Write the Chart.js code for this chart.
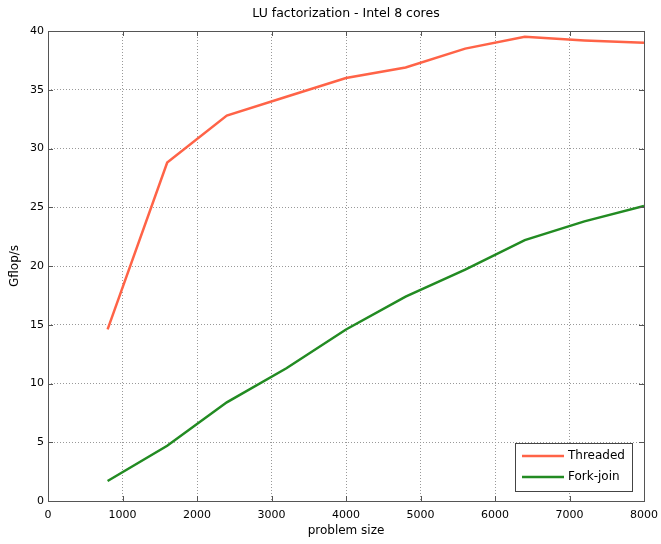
<!DOCTYPE html>
<html>
<head>
<meta charset="utf-8">
<script src="https://cdn.jsdelivr.net/npm/chart.js@4/dist/chart.umd.min.js"></script>
<style>
  html, body { margin: 0; padding: 0; background: #fff; }
  #wrap { width: 661px; height: 544px; }
</style>
</head>
<body>
<div id="wrap"><canvas id="chart"></canvas></div>
<script>
// Data
const problemSizes = [800, 1600, 2400, 3200, 4000, 4800, 5600, 6400, 7200, 8000];
const threaded = [14.6, 28.8, 32.8, 34.4, 36.0, 36.9, 38.5, 39.5, 39.2, 39.0];
const forkJoin = [1.7, 4.7, 8.4, 11.3, 14.6, 17.4, 19.7, 22.2, 23.8, 25.1];
const xTicks = [0, 1000, 2000, 3000, 4000, 5000, 6000, 7000, 8000];
const yTicks = [0, 5, 10, 15, 20, 25, 30, 35, 40];
const seriesNames = ['Threaded', 'Fork-join'];
const seriesColors = ['#ff6347', '#228b22'];

const FONT = '"DejaVu Sans", Arial, sans-serif';
Chart.defaults.font.family = FONT;
Chart.defaults.font.size = 11;
Chart.defaults.color = '#000';

// Matlab-like frame: box, inner ticks, title and legend
const framePlugin = {
  id: 'frame',
  afterDraw(chart) {
    const { ctx, chartArea: a, scales } = chart;
    ctx.save();
    ctx.strokeStyle = '#555';
    ctx.lineWidth = 1;
    ctx.strokeRect(a.left + 0.5, a.top + 0.5, a.right - a.left, a.bottom - a.top);
    ctx.beginPath();
    xTicks.forEach(v => {
      const x = Math.round(scales.x.getPixelForValue(v)) + 0.5;
      ctx.moveTo(x, a.bottom); ctx.lineTo(x, a.bottom - 5);
      ctx.moveTo(x, a.top); ctx.lineTo(x, a.top + 5);
    });
    yTicks.forEach(v => {
      const y = Math.round(scales.y.getPixelForValue(v)) + 0.5;
      ctx.moveTo(a.left, y); ctx.lineTo(a.left + 5, y);
      ctx.moveTo(a.right, y); ctx.lineTo(a.right - 5, y);
    });
    ctx.stroke();

    // title
    ctx.fillStyle = '#000';
    ctx.font = '12.5px ' + FONT;
    ctx.textAlign = 'center';
    ctx.textBaseline = 'middle';
    ctx.fillText('LU factorization - Intel 8 cores', (a.left + a.right) / 2, 14);

    // legend
    const lx = 515, ly = 443, lw = 117, lh = 48;
    ctx.fillStyle = '#fff';
    ctx.fillRect(lx, ly, lw, lh);
    ctx.strokeStyle = '#444';
    ctx.strokeRect(lx + 0.5, ly + 0.5, lw, lh);
    ctx.textAlign = 'left';
    ctx.font = '12px ' + FONT;
    seriesNames.forEach((name, i) => {
      const y = ly + 13 + i * 21;
      ctx.strokeStyle = seriesColors[i];
      ctx.lineWidth = 2.5;
      ctx.beginPath();
      ctx.moveTo(lx + 7, y); ctx.lineTo(lx + 49, y);
      ctx.stroke();
      ctx.fillStyle = '#000';
      ctx.fillText(name, lx + 53, y);
    });
    ctx.restore();
  }
};

new Chart(document.getElementById('chart'), {
  type: 'line',
  data: {
    datasets: seriesNames.map((name, i) => ({
      label: name,
      data: problemSizes.map((s, j) => ({ x: s, y: (i === 0 ? threaded : forkJoin)[j] })),
      borderColor: seriesColors[i],
      borderWidth: 2.5,
      pointRadius: 0,
      tension: 0,
      fill: false
    }))
  },
  options: {
    responsive: true,
    maintainAspectRatio: false,
    animation: false,
    layout: { padding: { top: 31, right: 17, left: 0, bottom: 0 } },
    plugins: { legend: { display: false }, tooltip: { enabled: false } },
    scales: {
      x: {
        type: 'linear',
        min: 0, max: 8000,
        afterBuildTicks: s => { s.ticks = xTicks.map(v => ({ value: v })); },
        afterFit: s => { s.height = 43; s.paddingLeft = 0; s.paddingRight = 0; },
        grid: { color: '#999', drawTicks: false },
        border: { display: false, dash: [1, 2] },
        ticks: { padding: 8, maxRotation: 0, callback: v => String(v) },
        title: { display: true, text: 'problem size', padding: { top: 0, bottom: 6 }, font: { size: 12 } }
      },
      y: {
        min: 0, max: 40,
        afterBuildTicks: s => { s.ticks = yTicks.map(v => ({ value: v })); },
        afterFit: s => { s.width = 48; s.paddingTop = 0; s.paddingBottom = 0; },
        grid: { color: '#999', drawTicks: false },
        border: { display: false, dash: [1, 2] },
        ticks: { padding: 4, callback: v => String(v) },
        title: { display: true, text: 'Gflop/s', padding: { top: 8, bottom: 0 }, font: { size: 12 } }
      }
    }
  },
  plugins: [framePlugin]
});
</script>
</body>
</html>
